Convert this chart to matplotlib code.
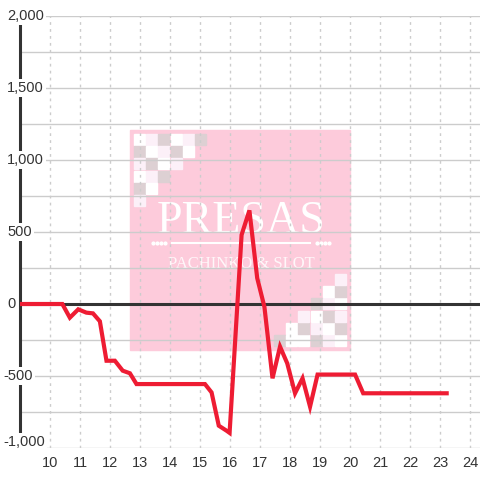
import matplotlib
matplotlib.use('Agg')
import matplotlib.pyplot as plt
from matplotlib.patches import Rectangle
from matplotlib.transforms import offset_copy

# data
hora = [9.0, 10.41, 10.66, 10.94, 11.21, 11.43, 11.66, 11.88, 12.16, 12.42, 12.66, 12.88,
        15.16, 15.38, 15.62, 15.88, 15.98, 16.38, 16.64, 16.9, 17.14, 17.41, 17.66, 17.9,
        18.16, 18.41, 18.66, 18.91, 20.16, 20.43, 23.21]
saldo = [0, 0, -95, -37, -60, -65, -120, -394, -394, -463, -481, -556,
         -556, -614, -845, -880, -895, 480, 650, 180, -20, -516, -296, -412,
         -620, -516, -713, -490, -490, -620, -620]
xticks = list(range(10, 25))
yticks = [-1000, -500, 0, 500, 1000, 1500, 2000]
ygrid = list(range(-1000, 2001, 250))

# watermark squares (w white, p pale pink, g gray)
tl_rows = ["wpgwpg", "gwpgw", "pgwp", "wpg", "gw", "p"]
br_rows = ["gwwgpw", "wgpwg", "pwgp", "gpw", "wg", "p"]
sq_col = {'w': '#ffffff', 'p': '#fcf0f8', 'g': '#ddd0d3'}

plt.rcParams['font.family'] = ['Liberation Sans', 'DejaVu Sans']
fig = plt.figure(figsize=(4.8, 4.8), dpi=100)
ax = fig.add_axes([20 / 480, 32 / 480, 460 / 480, 432 / 480])
ax.set_facecolor('none')

# pink logo behind everything (pixel coords -> figure fraction)
def fx(px):
    return px / 480
def fy(py):
    return 1 - py / 480

fig.patches.append(Rectangle((fx(130), fy(350)), 220 / 480, 220 / 480, transform=fig.transFigure,
                             color='#fdcbdb', zorder=-2))
for r, row in enumerate(tl_rows):
    for c, k in enumerate(row):
        x0 = 134 + c * 12.2
        y0 = 134 + r * 12.2
        fig.patches.append(Rectangle((fx(x0), fy(y0 + 11)), 11 / 480, 11 / 480,
                                     transform=fig.transFigure, color=sq_col[k], zorder=-1))
for r, row in enumerate(br_rows):
    n = len(row)
    for c, k in enumerate(row):
        x0 = 335 - (n - 1 - c) * 12.2
        y0 = 335 - r * 12.2
        fig.patches.append(Rectangle((fx(x0), fy(y0 + 11)), 11 / 480, 11 / 480,
                                     transform=fig.transFigure, color=sq_col[k], zorder=-1))
fig.text(fx(241), fy(222), 'PRESAS', family='Liberation Serif', fontsize=33, color='white',
         ha='center', va='center', zorder=-1)
fig.text(fx(241), fy(264), 'PACHINKO & SLOT', family='Liberation Serif', fontsize=12,
         color='white', ha='center', va='center', zorder=-1, alpha=0.85)
fig.lines.append(plt.Line2D([fx(172), fx(310)], [fy(243), fy(243)], transform=fig.transFigure,
                            color='white', lw=1.5, zorder=-1))
for d in [153, 157, 161, 165, 317, 321, 325, 329]:
    fig.lines.append(plt.Line2D([fx(d)], [fy(243)], transform=fig.transFigure, marker='o',
                                ms=2, color='white', zorder=-1))

# grid
for v in ygrid:
    ax.axhline(v, color='#cccccc', lw=1, zorder=1)
for t in xticks:
    ax.axvline(t, color='#cccccc', lw=1, ls=(0, (2, 3)), zorder=1)
ax.axhline(0, color='#333333', lw=2.2, zorder=2)

ax.plot(hora, saldo, color='#ee1c33', lw=3, zorder=3, solid_joinstyle='miter')

ax.set_xlim(9, 24.32)
ax.set_ylim(-1000, 2000)
for s in ['top', 'right', 'bottom']:
    ax.spines[s].set_visible(False)
ax.spines['left'].set_color('#333333')
ax.spines['left'].set_linewidth(2.2)
ax.spines['left'].set_zorder(2)

ax.set_xticks(xticks)
ax.set_xticklabels([str(t) for t in xticks])
ax.tick_params(axis='x', length=0, pad=6, labelsize=10.5, labelcolor='#333333')
ax.set_yticks([])

# y labels sit on top of the axis with a white box
for v in yticks:
    xpx = 7 if v >= 0 else 3
    tr = ax.get_yaxis_transform()
    if v == yticks[0]:
        tr = offset_copy(tr, fig=fig, y=6, units='dots')
    ax.text((xpx - 20) / 460, v, f"{v:,}", transform=tr, ha='left',
            va='center', fontsize=10.5, color='#333333', zorder=5, clip_on=False,
            bbox=dict(facecolor='white', edgecolor='none', pad=1.5))

plt.savefig('out.png', dpi=100)
plt.close('all')
